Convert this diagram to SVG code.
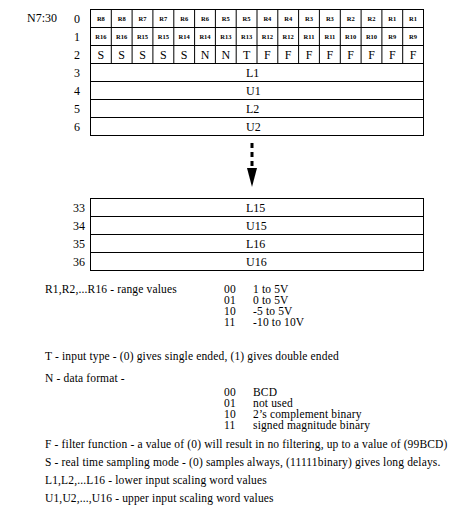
<svg xmlns="http://www.w3.org/2000/svg" width="469" height="520" viewBox="0 0 469 520">
<style>
.t{font-family:"Liberation Serif","Times New Roman",serif;font-size:11.5px;letter-spacing:0.15px;fill:#000}
.lbl{font-family:"Liberation Serif","Times New Roman",serif;font-size:12px;fill:#000}
.r{font-family:"Liberation Serif","Times New Roman",serif;font-size:6.5px;font-weight:bold;fill:#000;text-anchor:middle}
.c{font-family:"Liberation Serif","Times New Roman",serif;font-size:12px;fill:#000;text-anchor:middle}
.ln{stroke:#000;stroke-width:1;fill:none}
</style>
<rect width="469" height="520" fill="#fff"/>
<text class="lbl" x="27" y="22">N7:30</text>
<g id="top-table">
<rect class="ln" x="90.5" y="9.5" width="333" height="126"/>
<g class="ln" stroke="#000">
<line x1="90" y1="27.5" x2="423" y2="27.5"/>
<line x1="90" y1="45.5" x2="423" y2="45.5"/>
<line x1="90" y1="63.5" x2="423" y2="63.5"/>
<line x1="90" y1="81.5" x2="423" y2="81.5"/>
<line x1="90" y1="99.5" x2="423" y2="99.5"/>
<line x1="90" y1="117.5" x2="423" y2="117.5"/>
<line x1="111.3" y1="9" x2="111.3" y2="63"/>
<line x1="132.1" y1="9" x2="132.1" y2="63"/>
<line x1="152.9" y1="9" x2="152.9" y2="63"/>
<line x1="173.8" y1="9" x2="173.8" y2="63"/>
<line x1="194.6" y1="9" x2="194.6" y2="63"/>
<line x1="215.4" y1="9" x2="215.4" y2="63"/>
<line x1="236.2" y1="9" x2="236.2" y2="63"/>
<line x1="257.0" y1="9" x2="257.0" y2="63"/>
<line x1="277.8" y1="9" x2="277.8" y2="63"/>
<line x1="298.6" y1="9" x2="298.6" y2="63"/>
<line x1="319.4" y1="9" x2="319.4" y2="63"/>
<line x1="340.3" y1="9" x2="340.3" y2="63"/>
<line x1="361.1" y1="9" x2="361.1" y2="63"/>
<line x1="381.9" y1="9" x2="381.9" y2="63"/>
<line x1="402.7" y1="9" x2="402.7" y2="63"/>
</g>
<g id="row0">
<text class="r" x="100.9" y="21">R8</text><text class="r" x="121.7" y="21">R8</text><text class="r" x="142.5" y="21">R7</text><text class="r" x="163.3" y="21">R7</text><text class="r" x="184.2" y="21">R6</text><text class="r" x="205.0" y="21">R6</text><text class="r" x="225.8" y="21">R5</text><text class="r" x="246.6" y="21">R5</text><text class="r" x="267.4" y="21">R4</text><text class="r" x="288.2" y="21">R4</text><text class="r" x="309.0" y="21">R3</text><text class="r" x="329.9" y="21">R3</text><text class="r" x="350.7" y="21">R2</text><text class="r" x="371.5" y="21">R2</text><text class="r" x="392.3" y="21">R1</text><text class="r" x="413.1" y="21">R1</text>
</g>
<g id="row1">
<text class="r" x="100.9" y="39">R16</text><text class="r" x="121.7" y="39">R16</text><text class="r" x="142.5" y="39">R15</text><text class="r" x="163.3" y="39">R15</text><text class="r" x="184.2" y="39">R14</text><text class="r" x="205.0" y="39">R14</text><text class="r" x="225.8" y="39">R13</text><text class="r" x="246.6" y="39">R13</text><text class="r" x="267.4" y="39">R12</text><text class="r" x="288.2" y="39">R12</text><text class="r" x="309.0" y="39">R11</text><text class="r" x="329.9" y="39">R11</text><text class="r" x="350.7" y="39">R10</text><text class="r" x="371.5" y="39">R10</text><text class="r" x="392.3" y="39">R9</text><text class="r" x="413.1" y="39">R9</text>
</g>
<g id="row2">
<text class="c" x="100.9" y="59">S</text><text class="c" x="121.7" y="59">S</text><text class="c" x="142.5" y="59">S</text><text class="c" x="163.3" y="59">S</text><text class="c" x="184.2" y="59">S</text><text class="c" x="205.0" y="59">N</text><text class="c" x="225.8" y="59">N</text><text class="c" x="246.6" y="59">T</text><text class="c" x="267.4" y="59">F</text><text class="c" x="288.2" y="59">F</text><text class="c" x="309.0" y="59">F</text><text class="c" x="329.9" y="59">F</text><text class="c" x="350.7" y="59">F</text><text class="c" x="371.5" y="59">F</text><text class="c" x="392.3" y="59">F</text><text class="c" x="413.1" y="59">F</text>
</g>
<text class="lbl" x="246" y="77">L1</text>
<text class="lbl" x="246" y="95">U1</text>
<text class="lbl" x="246" y="113">L2</text>
<text class="lbl" x="246" y="131">U2</text>
</g>
<g id="top-row-numbers">
<text class="lbl" x="74" y="23">0</text>
<text class="lbl" x="74" y="41">1</text>
<text class="lbl" x="74" y="59">2</text>
<text class="lbl" x="74" y="77">3</text>
<text class="lbl" x="74" y="95">4</text>
<text class="lbl" x="74" y="113">5</text>
<text class="lbl" x="74" y="131">6</text>
</g>
<g id="connectors">
<line x1="252" y1="143" x2="252" y2="170" stroke="#000" stroke-width="3" stroke-dasharray="5,4"/>
<polygon points="247,168 257,168 252,187" fill="#000"/>
</g>
<g id="bottom-table">
<rect class="ln" x="90.5" y="198.5" width="333" height="72"/>
<line class="ln" x1="90" y1="216.5" x2="423" y2="216.5"/>
<line class="ln" x1="90" y1="234.5" x2="423" y2="234.5"/>
<line class="ln" x1="90" y1="252.5" x2="423" y2="252.5"/>
<text class="lbl" x="246" y="212">L15</text>
<text class="lbl" x="246" y="230">U15</text>
<text class="lbl" x="246" y="248">L16</text>
<text class="lbl" x="246" y="266">U16</text>
<text class="lbl" x="73" y="212">33</text>
<text class="lbl" x="73" y="230">34</text>
<text class="lbl" x="73" y="248">35</text>
<text class="lbl" x="73" y="266">36</text>
</g>
<g id="notes">
<text class="t" x="45" y="293">R1,R2,...R16 - range values</text>
<text class="t" x="224" y="293">00</text><text class="t" x="253" y="293">1 to 5V</text>
<text class="t" x="224" y="304">01</text><text class="t" x="253" y="304">0 to 5V</text>
<text class="t" x="224" y="315">10</text><text class="t" x="253" y="315">-5 to 5V</text>
<text class="t" x="224" y="326">11</text><text class="t" x="253" y="326">-10 to 10V</text>
<text class="t" x="45" y="360">T - input type - (0) gives single ended, (1) gives double ended</text>
<text class="t" x="45" y="382">N - data format -</text>
<text class="t" x="224" y="396">00</text><text class="t" x="253" y="396">BCD</text>
<text class="t" x="224" y="407">01</text><text class="t" x="253" y="407">not used</text>
<text class="t" x="224" y="418">10</text><text class="t" x="253" y="418">2’s complement binary</text>
<text class="t" x="224" y="429">11</text><text class="t" x="253" y="429">signed magnitude binary</text>
<text class="t" x="45" y="448">F - filter function - a value of (0) will result in no filtering, up to a value of (99BCD)</text>
<text class="t" x="45" y="466">S - real time sampling mode - (0) samples always, (11111binary) gives long delays.</text>
<text class="t" x="45" y="484">L1,L2,...L16 - lower input scaling word values</text>
<text class="t" x="45" y="502">U1,U2,...,U16 - upper input scaling word values</text>
</g>
</svg>
